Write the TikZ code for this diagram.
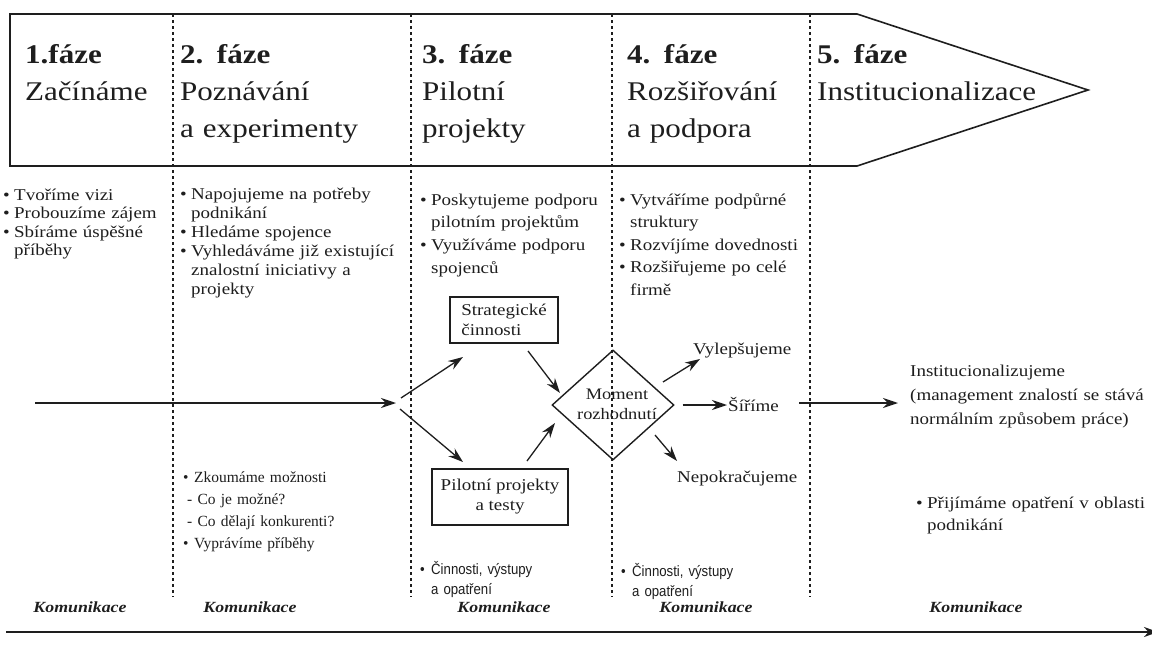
\documentclass[tikz,border=0pt]{standalone}
\usepackage{fontspec}
\setmainfont{Liberation Serif}
\newfontfamily\wideserif{Liberation Serif}[FakeStretch=1.15]
\newfontfamily\condsans{Liberation Sans}[FakeStretch=0.88]
\usetikzlibrary{arrows.meta,shapes.geometric}
\definecolor{ink}{HTML}{1E1E1E}
% bullet and hanging indent for list lines
\newcommand{\bul}{\makebox[11pt][l]{•}}
\newcommand{\ind}{\hspace*{11pt}}
\begin{document}
\begin{tikzpicture}[x=1pt,y=-1pt,
  every node/.style={text=ink},
  phase/.style={anchor=base west,inner sep=0pt,text width=260pt,align=left,
    font=\wideserif\fontsize{27}{37}\selectfont},
  bullets/.style={anchor=base west,inner sep=0pt,text width=250pt,align=left,
    font=\wideserif\fontsize{16.5}{#1}\selectfont},
  plainlist/.style={anchor=base west,inner sep=0pt,text width=200pt,align=left,
    font=\fontsize{15.5}{#1}\selectfont},
  sanslist/.style={anchor=base west,inner sep=0pt,text width=140pt,align=left,
    font=\condsans\fontsize{15}{#1}\selectfont},
  word/.style={anchor=base west,inner sep=0pt,font=\wideserif\fontsize{16.5}{20}\selectfont},
  comm/.style={anchor=base,inner sep=0pt,font=\wideserif\bfseries\itshape\fontsize{15.5}{18}\selectfont},
  box/.style={draw=ink,line width=1.4pt,inner sep=0pt,
    font=\wideserif\fontsize{16.5}{20}\selectfont},
  arr/.style={draw=ink,line width=1.3pt,-{Stealth[length=15pt,width=10pt,inset=5pt]}},
  divider/.style={draw=ink,line width=2pt,dash pattern=on 3pt off 3pt},
]
\useasboundingbox (0,0) rectangle (1152,645);
\fill[white] (0,0) rectangle (1152,645);

% phase banner
\draw[ink,line width=1.6pt,line join=miter]
  (10,14) -- (857,14) -- (1088,90) -- (857,166) -- (10,166) -- cycle;

\node[phase] (p1) at (25,63)  {\textbf{1.fáze}\\Začínáme};
\node[phase] (p2) at (180,63) {\textbf{2. fáze}\\Poznávání\\a experimenty};
\node[phase] (p3) at (422,63) {\textbf{3. fáze}\\Pilotní\\projekty};
\node[phase] (p4) at (627,63) {\textbf{4. fáze}\\Rozšiřování\\a podpora};
\node[phase] (p5) at (817,63) {\textbf{5. fáze}\\Institucionalizace};

% activity lists under the banner
\node[bullets=18.6] (b1) at (3,200)
  {\bul Tvoříme vizi\\\bul Probouzíme zájem\\\bul Sbíráme úspěšné\\\ind příběhy};
\node[bullets=19] (b2) at (180,199)
  {\bul Napojujeme na potřeby\\\ind podnikání\\\bul Hledáme spojence\\\bul Vyhledáváme již existující\\\ind znalostní iniciativy a\\\ind projekty};
\node[bullets=22.7] (b3) at (420,205)
  {\bul Poskytujeme podporu\\\ind pilotním projektům\\\bul Využíváme podporu\\\ind spojenců};
\node[bullets=22.5] (b4) at (619,205)
  {\bul Vytváříme podpůrné\\\ind struktury\\\bul Rozvíjíme dovednosti\\\bul Rozšiřujeme po celé\\\ind firmě};

% lower lists
\node[plainlist=22] (z2) at (183,482)
  {\bul Zkoumáme možnosti\\\hspace*{4pt}- Co je možné?\\\hspace*{4pt}- Co dělají konkurenti?\\\bul Vyprávíme příběhy};
\node[sanslist=20] (c3) at (420,574) {\bul Činnosti, výstupy\\\ind a opatření};
\node[sanslist=20] (c4) at (621,576) {\bul Činnosti, výstupy\\\ind a opatření};
\node[bullets=22] (b5) at (916,508) {\bul Přijímáme opatření v oblasti\\\ind podnikání};

% flow: boxes, decision and outcomes
\node[box,minimum width=108pt,minimum height=46pt,align=left] (strat) at (504,320)
  {Strategické\\činnosti};
\node[box,minimum width=136pt,minimum height=56pt,align=center] (pilot) at (500,497)
  {Pilotní projekty\\a testy};
\node[draw=ink,line width=1.4pt,diamond,minimum width=122pt,minimum height=110pt,
  inner sep=0pt] (decision) at (613,405) {};
\node[inner sep=0pt,align=center,font=\wideserif\fontsize{16}{20}\selectfont]
  (dlabel) at (617,404) {Moment\\rozhodnutí};

\node[word] (vyl) at (693,354) {Vylepšujeme};
\node[word] (sir) at (728,411) {Šíříme};
\node[word] (nep) at (677,482) {Nepokračujeme};
\node[bullets=24] (inst) at (910,376)
  {Institucionalizujeme\\(management znalostí se stává\\normálním způsobem práce)};

\coordinate (flowStart) at (35,403);
\coordinate (fork) at (396,403);
\coordinate (forkUp) at (401,398);
\coordinate (forkDn) at (400,409);
\coordinate (stratIn) at (463,357);
\coordinate (pilotIn) at (463,462);
\coordinate (stratOut) at (528,351);
\coordinate (decInA) at (560,393);
\coordinate (pilotOut) at (527,461);
\coordinate (decInB) at (555,423);
\coordinate (decOutA) at (663,382);
\coordinate (vylIn) at (700,359);
\coordinate (decOutC) at (655,435);
\coordinate (nepIn) at (677,461);
\coordinate (outStart) at (799,403);

\draw[arr] (flowStart) -- (fork);
\draw[arr] (forkUp) -- (stratIn);
\draw[arr] (forkDn) -- (pilotIn);
\draw[arr] (stratOut) -- (decInA);
\draw[arr] (pilotOut) -- (decInB);
\draw[arr] (decOutA) -- (vylIn);
\draw[arr,shorten <=8pt,shorten >=1pt] (decision.east) -- (decision.east -| sir.west);
\draw[arr] (decOutC) -- (nepIn);
\draw[arr,shorten >=12pt] (outStart) -- (outStart -| inst.west);

% communication row
\node[comm] (k1) at (80,612)  {Komunikace};
\node[comm] (k2) at (250,612) {Komunikace};
\node[comm] (k3) at (504,612) {Komunikace};
\node[comm] (k4) at (706,612) {Komunikace};
\node[comm] (k5) at (976,612) {Komunikace};
\coordinate (commStart) at (6,632);
\coordinate (commEnd) at (1158,632);
\draw[draw=ink,line width=2.2pt,-{Stealth[length=14pt,width=10pt]}] (commStart) -- (commEnd);

% phase dividers
\draw[divider] (173,14) -- (173,597);
\draw[divider] (411,14) -- (411,597);
\draw[divider] (612,14) -- (612,597);
\draw[divider] (810,14) -- (810,597);
\end{tikzpicture}
\end{document}
